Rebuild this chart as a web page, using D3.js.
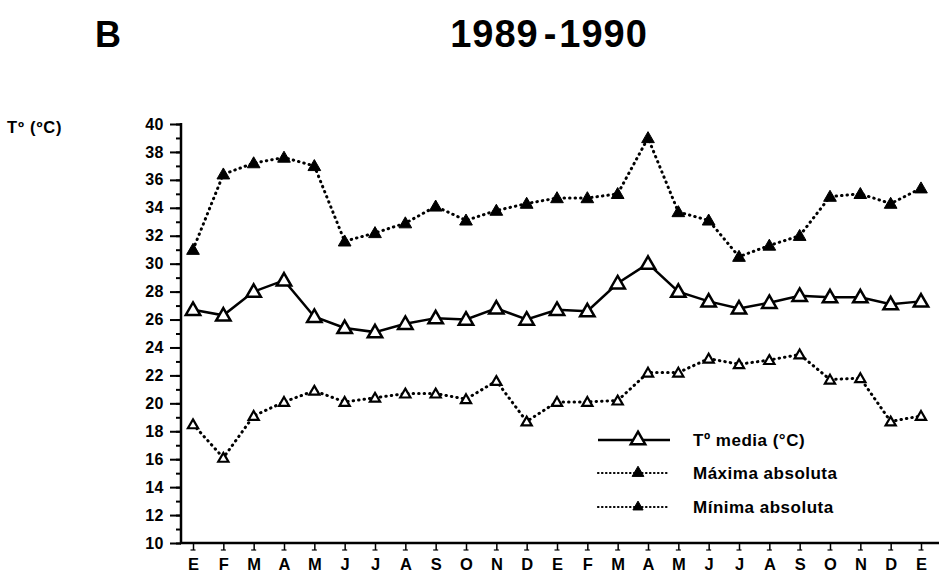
<!DOCTYPE html>
<html><head><meta charset="utf-8">
<script src="https://cdn.jsdelivr.net/npm/d3@7"></script>
<style>body{margin:0;background:#fff}svg{display:block}text{font-family:"Liberation Sans",Arial,sans-serif;fill:#000}</style>
</head><body><svg id="c" width="939" height="581"></svg>
<script>
const months = ["E","F","M","A","M","J","J","A","S","O","N","D","E","F","M","A","M","J","J","A","S","O","N","D","E"];
const media  = [26.7,26.3,28.0,28.8,26.2,25.4,25.1,25.7,26.1,26.0,26.8,26.0,26.7,26.6,28.6,30.0,28.0,27.3,26.8,27.2,27.7,27.6,27.6,27.1,27.3];
const maxima = [31.0,36.4,37.2,37.6,37.0,31.6,32.2,32.9,34.1,33.1,33.8,34.3,34.7,34.7,35.0,39.0,33.7,33.1,30.5,31.3,32.0,34.8,35.0,34.3,35.4];
const minima = [18.5,16.1,19.1,20.1,20.9,20.1,20.4,20.7,20.7,20.3,21.6,18.7,20.1,20.1,20.2,22.2,22.2,23.2,22.8,23.1,23.5,21.7,21.8,18.7,19.1];
const yTicks = [10,12,14,16,18,20,22,24,26,28,30,32,34,36,38,40];
const legendLabels = ["Tº media (°C)","Máxima absoluta","Mínima absoluta"];

const svg = d3.select("#c");
const x = d3.scaleLinear().domain([0, months.length-1]).range([193, 921]);
const y = d3.scaleLinear().domain([10, 40]).range([543, 124]);
const axisX0 = 181;
const FONT = "Liberation Sans, Arial, sans-serif";

// titles
svg.append("text").attr("x",95).attr("y",47).attr("font-size",36).attr("font-weight","bold").text("B");
const t = svg.append("text").attr("x",549).attr("y",47).attr("text-anchor","middle").attr("font-size",38)
  .attr("font-weight","bold").attr("letter-spacing",1);
t.append("tspan").text("1989");
t.append("tspan").attr("dx",5).text("-");
t.append("tspan").attr("dx",2).text("1990");
svg.append("text").attr("x",7).attr("y",133).attr("font-size",16.5).attr("font-weight","bold").attr("letter-spacing",0.8).text("Tº (ºC)");

// y axis minor ticks
const minor = d3.range(10, 41, 1);
svg.append("g").attr("transform",`translate(${axisX0},0)`)
  .call(d3.axisLeft(y).tickValues(minor).tickSize(5).tickFormat(""))
  .call(g=>{g.select(".domain").remove(); g.selectAll("line").attr("stroke","#000").attr("stroke-width",2);});
// y axis major
svg.append("g").attr("transform",`translate(${axisX0},0)`)
  .call(d3.axisLeft(y).tickValues(yTicks).tickSize(11).tickPadding(6).tickFormat(d3.format("d")))
  .call(g=>{
    g.select(".domain").remove();
    g.selectAll("line").attr("stroke","#000").attr("stroke-width",2);
    g.selectAll("text").attr("font-size",16).attr("font-weight","bold").attr("letter-spacing",0.5)
      .attr("font-family",FONT).attr("fill","#000");
  });
svg.append("line").attr("x1",axisX0).attr("x2",axisX0).attr("y1",y(40)-1).attr("y2",y(10)+1).attr("stroke","#000").attr("stroke-width",2.5);

// x axis
svg.append("line").attr("x1",axisX0-1).attr("x2",939).attr("y1",y(10)).attr("y2",y(10)).attr("stroke","#000").attr("stroke-width",2.5);
svg.append("g").attr("transform",`translate(0,${y(10)})`)
  .call(d3.axisBottom(x).tickValues(d3.range(months.length)).tickSize(7).tickPadding(8).tickFormat(i=>months[i]))
  .call(g=>{
    g.select(".domain").remove();
    g.selectAll("line").attr("stroke","#000").attr("stroke-width",1.5);
    g.selectAll("text").attr("font-size",16.5).attr("font-weight","bold").attr("font-family",FONT).attr("fill","#000");
  });
svg.append("g").selectAll("line").data(d3.range(months.length)).join("line")
  .attr("x1",i=>x(i)-2.5).attr("x2",i=>x(i)+2.5).attr("y1",y(10)+7).attr("y2",y(10)+7).attr("stroke","#000").attr("stroke-width",1.2);

const line = d3.line().x((d,i)=>x(i)).y(d=>y(d));
const tri = (s)=>d3.symbol().type(d3.symbolTriangle).size(s);

function series(data, dash, width, markerSize, fill, mstroke){
  svg.append("path").attr("d",line(data)).attr("fill","none").attr("stroke","#000")
    .attr("stroke-width",width).attr("stroke-dasharray",dash).attr("stroke-linecap", dash? "round":"butt");
  svg.append("g").selectAll("path").data(data).join("path")
    .attr("transform",(d,i)=>`translate(${x(i)},${y(d)+1})`)
    .attr("d",tri(markerSize)).attr("fill",fill).attr("stroke","#000").attr("stroke-width",mstroke);
}
series(maxima,"0.5,5",3,70,"#000",1);
series(minima,"0.5,5",3,45,"#fff",2.2);
series(media,null,2.5,90,"#fff",2.5);

// legend
const legY = [440,473,507];
const lg = svg.append("g");
[ {dash:null,w:2.5,s:90,f:"#fff",ms:2.5}, {dash:"0.5,3.5",w:2.2,s:60,f:"#000",ms:1}, {dash:"0.5,3.5",w:2.2,s:45,f:"#000",ms:1} ].forEach((o,k)=>{
  lg.append("line").attr("x1",598).attr("x2",670).attr("y1",legY[k]).attr("y2",legY[k]).attr("stroke","#000")
    .attr("stroke-width",o.w).attr("stroke-dasharray",o.dash).attr("stroke-linecap",o.dash?"round":"butt");
  lg.append("path").attr("transform",`translate(638,${legY[k]})`).attr("d",tri(o.s)).attr("fill",o.f).attr("stroke","#000").attr("stroke-width",o.ms);
  lg.append("text").attr("x",693).attr("y",legY[k]+6).attr("font-size",17).attr("font-weight","bold")
    .attr("letter-spacing",0.5).text(legendLabels[k]);
});
</script></body></html>
